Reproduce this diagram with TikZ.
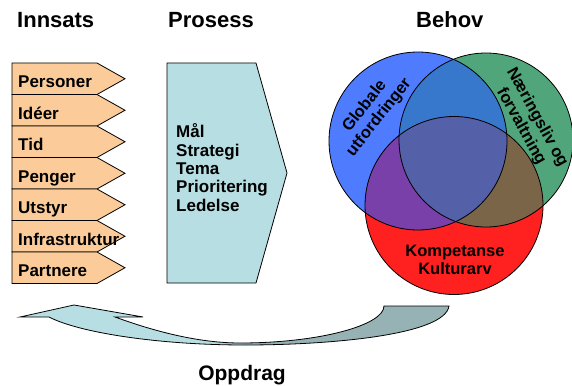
\documentclass[tikz,border=0pt]{standalone}
\usepackage{fontspec}
\setmainfont{Liberation Sans}
\usetikzlibrary{positioning}

\definecolor{innfill}{RGB}{251,204,153}
\definecolor{prosfill}{RGB}{183,222,226}
\definecolor{globblue}{RGB}{79,123,255}
\definecolor{naergreen}{RGB}{80,166,122}
\definecolor{kompred}{RGB}{255,32,32}
\definecolor{bgmix}{RGB}{56,120,204}
\definecolor{brmix}{RGB}{120,64,168}
\definecolor{grmix}{RGB}{122,101,72}
\definecolor{allmix}{RGB}{84,96,168}
\definecolor{arrlight}{RGB}{183,222,226}
\definecolor{arrdark}{RGB}{150,178,180}

\pgfdeclarehorizontalshading{oppdragshade}{100bp}{color(0bp)=(arrlight); color(47bp)=(arrlight); color(53bp)=(arrdark); color(100bp)=(arrdark)}

\begin{document}
\begin{tikzpicture}[x=1pt,y=-1pt,
  headtext/.style={font=\fontsize{22}{26}\selectfont\bfseries, inner sep=0pt},
  boxtext/.style={font=\fontsize{17}{18.4}\selectfont\bfseries, inner sep=0pt},
  venntext/.style={font=\fontsize{16.5}{18.3}\selectfont\bfseries, inner sep=0pt, align=center},
  outline/.style={draw=black, line width=0.8pt}]
\useasboundingbox (0,0) rectangle (572,385);

% headings
\node [headtext, anchor=base west] (innsats) at (17,28) {Innsats};
\node [headtext, anchor=base west] (prosess) at (168,28) {Prosess};
\node [headtext, anchor=base west] (behov) at (416,28) {Behov};

% Innsats: stack of signal boxes
\foreach \name [count=\i from 0] in {Personer, Idéer, Tid, Penger, Utstyr, Infrastruktur, Partnere} {
  \pgfmathsetmacro\rowtop{63+31.5*\i}
  \pgfmathsetmacro\rowmid{\rowtop+15.75}
  \pgfmathsetmacro\rowbot{\rowtop+31.5}
  \draw [outline, fill=innfill] (12,\rowtop) -- (97,\rowtop) -- (125,\rowmid) -- (97,\rowbot) -- (12,\rowbot) -- cycle;
  \node [boxtext, anchor=base west] (inn\i) at (18,\rowtop+24.5) {\name};
}

% Prosess
\draw [outline, fill=prosfill] (167,63) -- (256,63) -- (287,173) -- (256,283) -- (167,283) -- cycle;
\node [boxtext, anchor=north west, align=left] (tiltak) at (176,123.5) {Mål\\Strategi\\Tema\\Prioritering\\Ledelse};

% Behov: three circles
\coordinate (cblue) at (418,141);
\coordinate (cgreen) at (486,140);
\coordinate (cred) at (454,205.5);
\fill [naergreen] (cgreen) circle [radius=87];
\fill [globblue] (cblue) circle [radius=89];
\fill [kompred] (cred) circle [radius=89];
\begin{scope}
  \clip (cgreen) circle [radius=87];
  \fill [grmix] (cred) circle [radius=89];
\end{scope}
\begin{scope}
  \clip (cblue) circle [radius=89];
  \fill [bgmix] (cgreen) circle [radius=87];
  \fill [brmix] (cred) circle [radius=89];
  \clip (cgreen) circle [radius=87];
  \fill [allmix] (cred) circle [radius=89];
\end{scope}
\draw [outline] (cgreen) circle [radius=87];
\draw [outline] (cblue) circle [radius=89];
\draw [outline] (cred) circle [radius=89];

\node [venntext, rotate=52] (glob) at (372,112) {Globale\\utfordringer};
\node [venntext, rotate=-61] (naer) at (529,122) {Næringsliv og\\forvaltning};
\node [venntext] (komp) at (455,260) {Kompetanse\\Kulturarv};

% Oppdrag: curved return arrow
\draw [outline, shading=oppdragshade] (20,317) -- (74,305) -- (143,317) -- (115,317)
  .. controls (140,326) and (190,343) .. (240,343)
  .. controls (320,343) and (384,325) .. (384,306) -- (449,306)
  .. controls (445,335) and (330,345) .. (245,345)
  .. controls (160,345) and (80,333) .. (49,317) -- cycle;
\node [headtext, font=\fontsize{21}{25}\selectfont\bfseries, anchor=base] (oppdrag) at (242,380) {Oppdrag};
\end{tikzpicture}
\end{document}
